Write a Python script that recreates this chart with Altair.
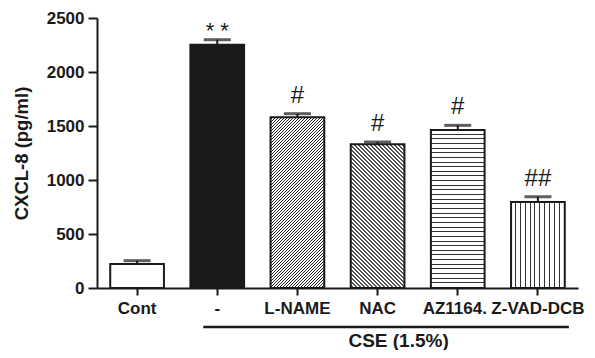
import math
import altair as alt
import pandas as pd

# ---- data ----
groups = ["Cont", "-", "L-NAME", "NAC", "AZ1164.", "Z-VAD-DCB"]
means = [222, 2253, 1580, 1330, 1463, 796]
errors = [31, 46, 34, 22, 43, 49]
marks = ["", "**", "#", "#", "#", "##"]
y_ticks = [0, 500, 1000, 1500, 2000, 2500]

PLOT_W, PLOT_H = 481, 270
Y_MAX = 2500
P_IN, P_OUT = 0.33, 0.165
FONT = "Liberation Sans"
INK = "#1a1a1a"

df = pd.DataFrame({"group": groups, "mean": means, "err": errors, "sig": marks})
df["top"] = df["mean"] + df["err"]

step = PLOT_W / (len(groups) - P_IN + 2 * P_OUT)
bar_w = step * (1 - P_IN)


def stripe_gradient(n, frac, x1, y1, x2, y2, ink):
    stops = []
    for k in range(n):
        a = round(k / n, 7)
        b = round((k + 1 - frac) / n, 7)
        c = round((k + 1) / n, 7)
        stops += [
            {"offset": a, "color": "white"},
            {"offset": b, "color": "white"},
            {"offset": b, "color": ink},
            {"offset": c, "color": ink},
        ]
    return alt.LinearGradient(gradient="linear", x1=x1, y1=y1, x2=x2, y2=y2, stops=stops)


def diag(w, h, h_period, frac, up, ink):
    spacing = h_period / math.sqrt(2)
    D = (w + h) / math.sqrt(2)
    n = int(math.ceil(D / spacing))
    L = n * spacing
    s = (w + h) / (w * w + h * h) * L / D
    if up:  # "/" lines
        return stripe_gradient(n, frac, 0, 0, s * w, s * h, ink)
    # "\" lines
    return stripe_gradient(n, frac, 0, 1, s * w, 1 - s * h, ink)


def bar_h(v):
    return v / Y_MAX * PLOT_H


def straight(length, period, vertical, ink):
    n = int(round(length / period))
    frac = n / length  # one pixel wide lines
    if vertical:
        return stripe_gradient(n, frac, 0, 0, 1, 0, ink)
    return stripe_gradient(n, frac, 0, 0, 0, 1, ink)


fills = {
    "Cont": "white",
    "-": INK,
    "L-NAME": diag(bar_w, bar_h(means[2]), 3, 1 / 3, True, "#222222"),
    "NAC": diag(bar_w, bar_h(means[3]), 4, 0.5, False, "#555555"),
    "AZ1164.": straight(bar_h(means[4]), 4.6, False, "#333333"),
    "Z-VAD-DCB": straight(bar_w, 4.8, True, "#333333"),
}

x_scale = alt.Scale(domain=groups, paddingInner=P_IN, paddingOuter=P_OUT)
x_enc = alt.X(
    "group:N",
    sort=groups,
    scale=x_scale,
    axis=alt.Axis(
        title=None, labelAngle=0, labelFont=FONT, labelFontSize=17, labelFontWeight="bold",
        labelColor=INK, domainColor=INK, domainWidth=2, tickColor=INK, tickWidth=2,
        tickSize=7, labelPadding=5, grid=False,
        labelOffset={"condition": {"test": "datum.value === 'AZ1164.'", "value": -3}, "value": 0},
    ),
)
y_scale = alt.Scale(domain=[0, Y_MAX], nice=False)
y_enc = alt.Y(
    "mean:Q",
    scale=y_scale,
    axis=alt.Axis(
        title="CXCL-8 (pg/ml)", values=y_ticks, format="d", titleFont=FONT, titleFontSize=18.5,
        titleFontWeight="bold", titleColor=INK, titlePadding=15, labelFont=FONT,
        labelFontSize=17, labelFontWeight="bold", labelColor=INK, domainColor=INK,
        domainWidth=2, tickColor=INK, tickWidth=2, tickSize=9, labelPadding=4, grid=False,
    ),
)

base = alt.Chart(df)

bars = [
    base.mark_bar(fill=fills[g], stroke=INK, strokeWidth=2, strokeJoin="miter")
    .encode(x=x_enc, y=y_enc)
    .transform_filter(alt.datum.group == g)
    for g in groups
]

x_plain = alt.X("group:N", sort=groups, scale=x_scale)

stems = base.mark_rule(color=INK, strokeWidth=2).encode(
    x=x_plain, y=alt.Y("mean:Q", scale=y_scale), y2="top:Q"
)
caps = base.mark_tick(color=INK, orient="horizontal", size=27, thickness=3).encode(
    x=x_plain, y=alt.Y("top:Q", scale=y_scale)
)

hashes = (
    base.mark_text(font=FONT, fontSize=24, color=INK, baseline="alphabetic", dy=-11)
    .encode(x=x_plain, y=alt.Y("top:Q", scale=y_scale), text="sig:N")
    .transform_filter("indexof(datum.sig, '#') >= 0")
)
stars = (
    base.mark_text(font=FONT, fontSize=22, color=INK, baseline="alphabetic", dy=-2)
    .encode(x=x_plain, y=alt.Y("top:Q", scale=y_scale), text="shown:N")
    .transform_filter("indexof(datum.sig, '*') >= 0")
    .transform_calculate(shown="join(split(datum.sig, ''), ' ')")
)

cse_line = alt.Chart(pd.DataFrame({"a": ["-"]})).mark_rule(
    color=INK, strokeWidth=2.5, xOffset=-14, x2Offset=31, yOffset=39
).encode(
    x=alt.X("a:N", sort=groups, scale=x_scale),
    x2=alt.X2(datum="Z-VAD-DCB"),
    y=alt.Y(datum=0, scale=y_scale),
)
cse_text = alt.Chart(pd.DataFrame({"t": ["CSE (1.5%)"]})).mark_text(
    font=FONT, fontSize=19, fontWeight="bold", color=INK, baseline="top", dx=21, dy=44
).encode(
    x=alt.X(datum="NAC", scale=x_scale),
    y=alt.Y(datum=0, scale=y_scale),
    text="t:N",
)

chart = (
    alt.layer(*bars, stems, caps, hashes, stars, cse_line, cse_text)
    .properties(
        width=PLOT_W,
        height=PLOT_H,
        autosize=alt.AutoSizeParams(type="none"),
        padding={"left": 89, "top": 10, "right": 9, "bottom": 62},
        background="white",
    )
    .configure_view(stroke=None)
)

chart.save("out.html", embed_options={"renderer": "svg", "actions": False})
